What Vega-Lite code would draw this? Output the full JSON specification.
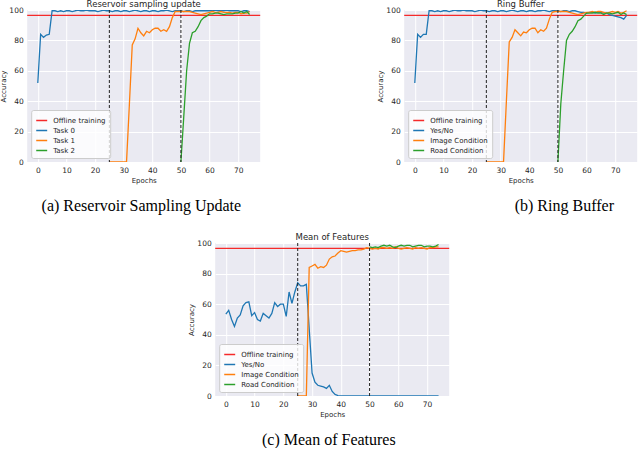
{
"$schema": "https://vega.github.io/schema/vega-lite/v6.json",
"background": "white",
"padding": {"left": -1, "top": -1, "right": 0, "bottom": 0},
"config": {
 "view": {"fill": "#EAEAF2", "stroke": null},
 "font": "DejaVu Sans",
 "axis": {"domain": false, "ticks": false, "tickSize": 0, "labelOverlap": false, "labelFlush": false, "gridColor": "white", "gridWidth": 1, "labelFontSize": 7.5, "labelColor": "#262626", "titleFontSize": 7, "titleColor": "#262626", "titleFontWeight": "normal"},
 "axisX": {"labelPadding": 4, "titlePadding": 3, "labelAngle": 0},
 "axisY": {"labelPadding": 4, "titlePadding": 2},
 "legend": {"orient": "bottom-left", "offset": 4, "fillColor": "rgba(255,255,255,0.8)", "strokeColor": "#cccccc", "cornerRadius": 2, "padding": 4, "labelFontSize": 7, "labelColor": "#262626", "symbolType": "stroke", "symbolSize": 120, "symbolStrokeWidth": 1.5, "rowPadding": 0, "labelOffset": 5},
 "title": {"fontSize": 8.5, "fontWeight": "normal", "color": "#262626", "offset": -2}
},
"datasets": {
 "a": [
  {"s":"Task 0","e":0,"v":52},{"s":"Task 0","e":1,"v":84},{"s":"Task 0","e":2,"v":82},{"s":"Task 0","e":3,"v":83.5},{"s":"Task 0","e":4,"v":84},{"s":"Task 0","e":5,"v":99.5},{"s":"Task 0","e":6,"v":99.5},{"s":"Task 0","e":7,"v":99},{"s":"Task 0","e":8,"v":99.5},{"s":"Task 0","e":9,"v":99},{"s":"Task 0","e":10,"v":99.5},{"s":"Task 0","e":11,"v":99.5},{"s":"Task 0","e":12,"v":99},{"s":"Task 0","e":13,"v":99.5},{"s":"Task 0","e":14,"v":100},{"s":"Task 0","e":15,"v":99.5},{"s":"Task 0","e":16,"v":99.5},{"s":"Task 0","e":17,"v":100},{"s":"Task 0","e":18,"v":99.5},{"s":"Task 0","e":19,"v":99.5},{"s":"Task 0","e":20,"v":99.5},{"s":"Task 0","e":21,"v":99},{"s":"Task 0","e":22,"v":99.5},{"s":"Task 0","e":23,"v":100},{"s":"Task 0","e":24,"v":99.5},{"s":"Task 0","e":25,"v":99.5},{"s":"Task 0","e":26,"v":99},{"s":"Task 0","e":27,"v":99.5},{"s":"Task 0","e":28,"v":99.5},{"s":"Task 0","e":29,"v":99},{"s":"Task 0","e":30,"v":99.5},{"s":"Task 0","e":31,"v":99.5},{"s":"Task 0","e":32,"v":99},{"s":"Task 0","e":33,"v":99.5},{"s":"Task 0","e":34,"v":100},{"s":"Task 0","e":35,"v":99.5},{"s":"Task 0","e":36,"v":99},{"s":"Task 0","e":37,"v":99.5},{"s":"Task 0","e":38,"v":99.5},{"s":"Task 0","e":39,"v":99},{"s":"Task 0","e":40,"v":99.5},{"s":"Task 0","e":41,"v":99.5},{"s":"Task 0","e":42,"v":99},{"s":"Task 0","e":43,"v":99.5},{"s":"Task 0","e":44,"v":99.5},{"s":"Task 0","e":45,"v":100},{"s":"Task 0","e":46,"v":99.5},{"s":"Task 0","e":47,"v":99},{"s":"Task 0","e":48,"v":99.5},{"s":"Task 0","e":49,"v":99.5},{"s":"Task 0","e":50,"v":99.5},{"s":"Task 0","e":51,"v":99},{"s":"Task 0","e":52,"v":99.5},{"s":"Task 0","e":53,"v":99.5},{"s":"Task 0","e":54,"v":99},{"s":"Task 0","e":55,"v":99.5},{"s":"Task 0","e":56,"v":99.5},{"s":"Task 0","e":57,"v":99.5},{"s":"Task 0","e":58,"v":99.5},{"s":"Task 0","e":59,"v":99.5},{"s":"Task 0","e":60,"v":99.5},{"s":"Task 0","e":61,"v":99.5},{"s":"Task 0","e":62,"v":100},{"s":"Task 0","e":63,"v":99.5},{"s":"Task 0","e":64,"v":99.5},{"s":"Task 0","e":65,"v":99.5},{"s":"Task 0","e":66,"v":100},{"s":"Task 0","e":67,"v":99.5},{"s":"Task 0","e":68,"v":99.5},{"s":"Task 0","e":69,"v":99.5},{"s":"Task 0","e":70,"v":99.5},{"s":"Task 0","e":71,"v":99},{"s":"Task 0","e":72,"v":99.5},{"s":"Task 0","e":73,"v":99.5},{"s":"Task 0","e":74,"v":99},
  {"s":"Task 1","e":25,"v":0},{"s":"Task 1","e":26,"v":0},{"s":"Task 1","e":27,"v":0},{"s":"Task 1","e":28,"v":0},{"s":"Task 1","e":29,"v":0},{"s":"Task 1","e":30,"v":0},{"s":"Task 1","e":31,"v":0},{"s":"Task 1","e":32,"v":38},{"s":"Task 1","e":33,"v":77},{"s":"Task 1","e":34,"v":81},{"s":"Task 1","e":35,"v":88},{"s":"Task 1","e":36,"v":85},{"s":"Task 1","e":37,"v":83},{"s":"Task 1","e":38,"v":86},{"s":"Task 1","e":39,"v":85},{"s":"Task 1","e":40,"v":87},{"s":"Task 1","e":41,"v":88},{"s":"Task 1","e":42,"v":88},{"s":"Task 1","e":43,"v":86},{"s":"Task 1","e":44,"v":87},{"s":"Task 1","e":45,"v":86},{"s":"Task 1","e":46,"v":89},{"s":"Task 1","e":47,"v":95},{"s":"Task 1","e":48,"v":99},{"s":"Task 1","e":49,"v":99},{"s":"Task 1","e":50,"v":99},{"s":"Task 1","e":51,"v":99},{"s":"Task 1","e":52,"v":99},{"s":"Task 1","e":53,"v":99},{"s":"Task 1","e":54,"v":98.5},{"s":"Task 1","e":55,"v":98},{"s":"Task 1","e":56,"v":97.5},{"s":"Task 1","e":57,"v":97},{"s":"Task 1","e":58,"v":97.5},{"s":"Task 1","e":59,"v":98},{"s":"Task 1","e":60,"v":98.5},{"s":"Task 1","e":61,"v":99},{"s":"Task 1","e":62,"v":98.5},{"s":"Task 1","e":63,"v":98.5},{"s":"Task 1","e":64,"v":99},{"s":"Task 1","e":65,"v":98.5},{"s":"Task 1","e":66,"v":98.5},{"s":"Task 1","e":67,"v":98.5},{"s":"Task 1","e":68,"v":98},{"s":"Task 1","e":69,"v":98.5},{"s":"Task 1","e":70,"v":98.5},{"s":"Task 1","e":71,"v":97.5},{"s":"Task 1","e":72,"v":98},{"s":"Task 1","e":73,"v":98},{"s":"Task 1","e":74,"v":99},
  {"s":"Task 2","e":50,"v":0},{"s":"Task 2","e":51,"v":30},{"s":"Task 2","e":52,"v":60},{"s":"Task 2","e":53,"v":78},{"s":"Task 2","e":54,"v":85},{"s":"Task 2","e":55,"v":86},{"s":"Task 2","e":56,"v":89},{"s":"Task 2","e":57,"v":93},{"s":"Task 2","e":58,"v":95},{"s":"Task 2","e":59,"v":96},{"s":"Task 2","e":60,"v":97.5},{"s":"Task 2","e":61,"v":97.5},{"s":"Task 2","e":62,"v":98},{"s":"Task 2","e":63,"v":98},{"s":"Task 2","e":64,"v":97.5},{"s":"Task 2","e":65,"v":97},{"s":"Task 2","e":66,"v":97.5},{"s":"Task 2","e":67,"v":97.5},{"s":"Task 2","e":68,"v":97.5},{"s":"Task 2","e":69,"v":98},{"s":"Task 2","e":70,"v":98},{"s":"Task 2","e":71,"v":99},{"s":"Task 2","e":72,"v":98},{"s":"Task 2","e":73,"v":99},{"s":"Task 2","e":74,"v":97}
 ],
 "b": [
  {"s":"Yes/No","e":0,"v":52},{"s":"Yes/No","e":1,"v":84},{"s":"Yes/No","e":2,"v":82},{"s":"Yes/No","e":3,"v":84},{"s":"Yes/No","e":4,"v":84},{"s":"Yes/No","e":5,"v":99.5},{"s":"Yes/No","e":6,"v":99.5},{"s":"Yes/No","e":7,"v":99},{"s":"Yes/No","e":8,"v":99.5},{"s":"Yes/No","e":9,"v":99},{"s":"Yes/No","e":10,"v":99.5},{"s":"Yes/No","e":11,"v":99.5},{"s":"Yes/No","e":12,"v":99},{"s":"Yes/No","e":13,"v":99.5},{"s":"Yes/No","e":14,"v":100},{"s":"Yes/No","e":15,"v":99.5},{"s":"Yes/No","e":16,"v":99.5},{"s":"Yes/No","e":17,"v":100},{"s":"Yes/No","e":18,"v":99.5},{"s":"Yes/No","e":19,"v":99.5},{"s":"Yes/No","e":20,"v":99.5},{"s":"Yes/No","e":21,"v":99},{"s":"Yes/No","e":22,"v":99.5},{"s":"Yes/No","e":23,"v":100},{"s":"Yes/No","e":24,"v":99.5},{"s":"Yes/No","e":25,"v":99.5},{"s":"Yes/No","e":26,"v":99},{"s":"Yes/No","e":27,"v":99.5},{"s":"Yes/No","e":28,"v":99.5},{"s":"Yes/No","e":29,"v":99},{"s":"Yes/No","e":30,"v":99.5},{"s":"Yes/No","e":31,"v":99.5},{"s":"Yes/No","e":32,"v":99},{"s":"Yes/No","e":33,"v":99.5},{"s":"Yes/No","e":34,"v":100},{"s":"Yes/No","e":35,"v":99.5},{"s":"Yes/No","e":36,"v":99},{"s":"Yes/No","e":37,"v":99.5},{"s":"Yes/No","e":38,"v":99.5},{"s":"Yes/No","e":39,"v":99},{"s":"Yes/No","e":40,"v":99.5},{"s":"Yes/No","e":41,"v":99.5},{"s":"Yes/No","e":42,"v":99},{"s":"Yes/No","e":43,"v":99.5},{"s":"Yes/No","e":44,"v":99.5},{"s":"Yes/No","e":45,"v":100},{"s":"Yes/No","e":46,"v":99.5},{"s":"Yes/No","e":47,"v":99},{"s":"Yes/No","e":48,"v":99.5},{"s":"Yes/No","e":49,"v":99.5},{"s":"Yes/No","e":50,"v":99.5},{"s":"Yes/No","e":51,"v":99},{"s":"Yes/No","e":52,"v":99.5},{"s":"Yes/No","e":53,"v":99.5},{"s":"Yes/No","e":54,"v":99},{"s":"Yes/No","e":55,"v":99.5},{"s":"Yes/No","e":56,"v":99.5},{"s":"Yes/No","e":57,"v":99},{"s":"Yes/No","e":58,"v":98.5},{"s":"Yes/No","e":59,"v":98.5},{"s":"Yes/No","e":60,"v":98},{"s":"Yes/No","e":61,"v":98.5},{"s":"Yes/No","e":62,"v":98.5},{"s":"Yes/No","e":63,"v":98},{"s":"Yes/No","e":64,"v":98.5},{"s":"Yes/No","e":65,"v":98.5},{"s":"Yes/No","e":66,"v":98},{"s":"Yes/No","e":67,"v":98},{"s":"Yes/No","e":68,"v":97},{"s":"Yes/No","e":69,"v":96.5},{"s":"Yes/No","e":70,"v":96},{"s":"Yes/No","e":71,"v":95.5},{"s":"Yes/No","e":72,"v":95},{"s":"Yes/No","e":73,"v":94},{"s":"Yes/No","e":74,"v":96.5},
  {"s":"Image Condition","e":25,"v":0},{"s":"Image Condition","e":26,"v":0},{"s":"Image Condition","e":27,"v":0},{"s":"Image Condition","e":28,"v":0},{"s":"Image Condition","e":29,"v":0},{"s":"Image Condition","e":30,"v":0},{"s":"Image Condition","e":31,"v":0},{"s":"Image Condition","e":32,"v":40},{"s":"Image Condition","e":33,"v":79},{"s":"Image Condition","e":34,"v":82},{"s":"Image Condition","e":35,"v":87},{"s":"Image Condition","e":36,"v":85},{"s":"Image Condition","e":37,"v":83},{"s":"Image Condition","e":38,"v":85.5},{"s":"Image Condition","e":39,"v":85},{"s":"Image Condition","e":40,"v":87},{"s":"Image Condition","e":41,"v":88},{"s":"Image Condition","e":42,"v":88},{"s":"Image Condition","e":43,"v":85},{"s":"Image Condition","e":44,"v":87},{"s":"Image Condition","e":45,"v":86},{"s":"Image Condition","e":46,"v":88},{"s":"Image Condition","e":47,"v":94},{"s":"Image Condition","e":48,"v":98.5},{"s":"Image Condition","e":49,"v":99},{"s":"Image Condition","e":50,"v":99},{"s":"Image Condition","e":51,"v":99},{"s":"Image Condition","e":52,"v":99},{"s":"Image Condition","e":53,"v":99},{"s":"Image Condition","e":54,"v":98.5},{"s":"Image Condition","e":55,"v":98},{"s":"Image Condition","e":56,"v":97.5},{"s":"Image Condition","e":57,"v":97},{"s":"Image Condition","e":58,"v":97.5},{"s":"Image Condition","e":59,"v":98},{"s":"Image Condition","e":60,"v":98.5},{"s":"Image Condition","e":61,"v":98.5},{"s":"Image Condition","e":62,"v":99},{"s":"Image Condition","e":63,"v":98.5},{"s":"Image Condition","e":64,"v":99},{"s":"Image Condition","e":65,"v":99},{"s":"Image Condition","e":66,"v":98.5},{"s":"Image Condition","e":67,"v":98},{"s":"Image Condition","e":68,"v":98.5},{"s":"Image Condition","e":69,"v":99},{"s":"Image Condition","e":70,"v":98.5},{"s":"Image Condition","e":71,"v":99},{"s":"Image Condition","e":72,"v":98},{"s":"Image Condition","e":73,"v":98.5},{"s":"Image Condition","e":74,"v":99.5},
  {"s":"Road Condition","e":50,"v":0},{"s":"Road Condition","e":51,"v":38},{"s":"Road Condition","e":52,"v":60},{"s":"Road Condition","e":53,"v":80},{"s":"Road Condition","e":54,"v":84},{"s":"Road Condition","e":55,"v":86},{"s":"Road Condition","e":56,"v":89},{"s":"Road Condition","e":57,"v":93},{"s":"Road Condition","e":58,"v":94},{"s":"Road Condition","e":59,"v":96},{"s":"Road Condition","e":60,"v":98},{"s":"Road Condition","e":61,"v":98},{"s":"Road Condition","e":62,"v":98},{"s":"Road Condition","e":63,"v":98.5},{"s":"Road Condition","e":64,"v":98},{"s":"Road Condition","e":65,"v":98},{"s":"Road Condition","e":66,"v":97},{"s":"Road Condition","e":67,"v":98},{"s":"Road Condition","e":68,"v":98},{"s":"Road Condition","e":69,"v":97.5},{"s":"Road Condition","e":70,"v":98},{"s":"Road Condition","e":71,"v":98.5},{"s":"Road Condition","e":72,"v":97},{"s":"Road Condition","e":73,"v":98},{"s":"Road Condition","e":74,"v":97}
 ],
 "c": [
  {"s":"Yes/No","e":0,"v":53.5},{"s":"Yes/No","e":1,"v":56},{"s":"Yes/No","e":2,"v":50},{"s":"Yes/No","e":3,"v":45.5},{"s":"Yes/No","e":4,"v":51},{"s":"Yes/No","e":5,"v":53},{"s":"Yes/No","e":6,"v":59},{"s":"Yes/No","e":7,"v":61},{"s":"Yes/No","e":8,"v":61.5},{"s":"Yes/No","e":9,"v":52.5},{"s":"Yes/No","e":10,"v":54.5},{"s":"Yes/No","e":11,"v":50},{"s":"Yes/No","e":12,"v":49},{"s":"Yes/No","e":13,"v":54},{"s":"Yes/No","e":14,"v":52.5},{"s":"Yes/No","e":15,"v":51},{"s":"Yes/No","e":16,"v":54},{"s":"Yes/No","e":17,"v":61},{"s":"Yes/No","e":18,"v":58.5},{"s":"Yes/No","e":19,"v":60},{"s":"Yes/No","e":20,"v":60},{"s":"Yes/No","e":21,"v":52},{"s":"Yes/No","e":22,"v":68},{"s":"Yes/No","e":23,"v":60.5},{"s":"Yes/No","e":24,"v":68},{"s":"Yes/No","e":25,"v":74},{"s":"Yes/No","e":26,"v":72},{"s":"Yes/No","e":27,"v":72},{"s":"Yes/No","e":28,"v":73},{"s":"Yes/No","e":29,"v":44},{"s":"Yes/No","e":30,"v":15},{"s":"Yes/No","e":31,"v":9},{"s":"Yes/No","e":32,"v":7},{"s":"Yes/No","e":33,"v":6.5},{"s":"Yes/No","e":34,"v":6},{"s":"Yes/No","e":35,"v":5},{"s":"Yes/No","e":36,"v":7},{"s":"Yes/No","e":37,"v":3},{"s":"Yes/No","e":38,"v":1},{"s":"Yes/No","e":39,"v":0.3},{"s":"Yes/No","e":40,"v":0},{"s":"Yes/No","e":41,"v":0},{"s":"Yes/No","e":42,"v":0},{"s":"Yes/No","e":43,"v":0},{"s":"Yes/No","e":44,"v":0},{"s":"Yes/No","e":45,"v":0},{"s":"Yes/No","e":46,"v":0},{"s":"Yes/No","e":47,"v":0},{"s":"Yes/No","e":48,"v":0},{"s":"Yes/No","e":49,"v":0},{"s":"Yes/No","e":50,"v":0},{"s":"Yes/No","e":51,"v":0},{"s":"Yes/No","e":52,"v":0},{"s":"Yes/No","e":53,"v":0},{"s":"Yes/No","e":54,"v":0},{"s":"Yes/No","e":55,"v":0},{"s":"Yes/No","e":56,"v":0},{"s":"Yes/No","e":57,"v":0},{"s":"Yes/No","e":58,"v":0},{"s":"Yes/No","e":59,"v":0},{"s":"Yes/No","e":60,"v":0},{"s":"Yes/No","e":61,"v":0},{"s":"Yes/No","e":62,"v":0},{"s":"Yes/No","e":63,"v":0},{"s":"Yes/No","e":64,"v":0},{"s":"Yes/No","e":65,"v":0},{"s":"Yes/No","e":66,"v":0},{"s":"Yes/No","e":67,"v":0},{"s":"Yes/No","e":68,"v":0},{"s":"Yes/No","e":69,"v":0},{"s":"Yes/No","e":70,"v":0},{"s":"Yes/No","e":71,"v":0},{"s":"Yes/No","e":72,"v":0},{"s":"Yes/No","e":73,"v":0},{"s":"Yes/No","e":74,"v":0},
  {"s":"Image Condition","e":25,"v":0},{"s":"Image Condition","e":26,"v":0},{"s":"Image Condition","e":27,"v":0},{"s":"Image Condition","e":28,"v":0},{"s":"Image Condition","e":29,"v":84},{"s":"Image Condition","e":30,"v":85},{"s":"Image Condition","e":31,"v":86},{"s":"Image Condition","e":32,"v":83.5},{"s":"Image Condition","e":33,"v":84.5},{"s":"Image Condition","e":34,"v":84},{"s":"Image Condition","e":35,"v":85.5},{"s":"Image Condition","e":36,"v":89.5},{"s":"Image Condition","e":37,"v":91},{"s":"Image Condition","e":38,"v":91.5},{"s":"Image Condition","e":39,"v":93.5},{"s":"Image Condition","e":40,"v":95},{"s":"Image Condition","e":41,"v":94.5},{"s":"Image Condition","e":42,"v":94},{"s":"Image Condition","e":43,"v":94.5},{"s":"Image Condition","e":44,"v":95},{"s":"Image Condition","e":45,"v":95},{"s":"Image Condition","e":46,"v":95.5},{"s":"Image Condition","e":47,"v":95.5},{"s":"Image Condition","e":48,"v":96},{"s":"Image Condition","e":49,"v":97},{"s":"Image Condition","e":50,"v":96.5},{"s":"Image Condition","e":51,"v":96},{"s":"Image Condition","e":52,"v":96.5},{"s":"Image Condition","e":53,"v":96},{"s":"Image Condition","e":54,"v":97},{"s":"Image Condition","e":55,"v":97},{"s":"Image Condition","e":56,"v":96.5},{"s":"Image Condition","e":57,"v":97},{"s":"Image Condition","e":58,"v":96.5},{"s":"Image Condition","e":59,"v":97.5},{"s":"Image Condition","e":60,"v":96.5},{"s":"Image Condition","e":61,"v":96},{"s":"Image Condition","e":62,"v":96.5},{"s":"Image Condition","e":63,"v":97},{"s":"Image Condition","e":64,"v":96.5},{"s":"Image Condition","e":65,"v":96},{"s":"Image Condition","e":66,"v":97},{"s":"Image Condition","e":67,"v":96.5},{"s":"Image Condition","e":68,"v":97},{"s":"Image Condition","e":69,"v":96.5},{"s":"Image Condition","e":70,"v":96},{"s":"Image Condition","e":71,"v":97},{"s":"Image Condition","e":72,"v":97},{"s":"Image Condition","e":73,"v":97.5},{"s":"Image Condition","e":74,"v":97.5},
  {"s":"Road Condition","e":50,"v":97.5},{"s":"Road Condition","e":51,"v":97},{"s":"Road Condition","e":52,"v":97.5},{"s":"Road Condition","e":53,"v":97},{"s":"Road Condition","e":54,"v":98},{"s":"Road Condition","e":55,"v":98.5},{"s":"Road Condition","e":56,"v":98},{"s":"Road Condition","e":57,"v":98.5},{"s":"Road Condition","e":58,"v":97.5},{"s":"Road Condition","e":59,"v":97},{"s":"Road Condition","e":60,"v":98},{"s":"Road Condition","e":61,"v":98.5},{"s":"Road Condition","e":62,"v":98},{"s":"Road Condition","e":63,"v":98.5},{"s":"Road Condition","e":64,"v":98.5},{"s":"Road Condition","e":65,"v":97.5},{"s":"Road Condition","e":66,"v":98},{"s":"Road Condition","e":67,"v":98.5},{"s":"Road Condition","e":68,"v":98.5},{"s":"Road Condition","e":69,"v":97.5},{"s":"Road Condition","e":70,"v":98},{"s":"Road Condition","e":71,"v":98},{"s":"Road Condition","e":72,"v":97.5},{"s":"Road Condition","e":73,"v":98},{"s":"Road Condition","e":74,"v":99}
 ]
},
"vconcat": [
 {
  "hconcat": [
   {
    "title": {"text": "(a) Reservoir Sampling Update", "orient": "bottom", "anchor": "middle", "font": "Liberation Serif", "fontSize": 16, "fontWeight": "normal", "color": "black", "offset": 14, "dx": 11},
    "resolve": {"scale": {"color": "independent"}, "legend": {"color": "independent"}},
    "vconcat": [
     {
      "width": 233, "height": 152,
      "title": {"text": "Reservoir sampling update"},
      "layer": [
       {"data": {"values": [{"s": "Offline training", "v": 96.5}]}, "mark": {"type": "rule", "strokeWidth": 1.2},
        "encoding": {"y": {"field": "v", "type": "quantitative", "axis": {"values": [0,20,40,60,80,100], "title": "Accuracy", "labelOverlap": false}}, "color": {"field": "s", "type": "nominal"}}},
       {"data": {"name": "a"}, "mark": {"type": "line", "clip": true, "strokeWidth": 1.3},
        "encoding": {
         "x": {"field": "e", "type": "quantitative", "scale": {"domain": [-3.7, 77.7], "nice": false, "zero": false}, "axis": {"values": [0,10,20,30,40,50,60,70], "title": "Epochs", "labelOverlap": false}},
         "y": {"field": "v", "type": "quantitative", "scale": {"domain": [0, 100], "nice": false}, "axis": {"values": [0,20,40,60,80,100], "title": "Accuracy", "labelOverlap": false}},
         "color": {"field": "s", "type": "nominal", "scale": {"domain": ["Offline training","Task 0","Task 1","Task 2"], "range": ["#f52a2a","#1f77b4","#ff7f0e","#2ca02c"]}, "legend": {"title": null, "orient": "bottom-left"}}}},
       {"data": {"values": [{"e": 25}, {"e": 50}]}, "mark": {"type": "rule", "strokeDash": [3, 2], "color": "#222222", "strokeWidth": 1},
        "encoding": {"x": {"field": "e", "type": "quantitative", "axis": {"values": [0,10,20,30,40,50,60,70], "title": "Epochs", "labelOverlap": false}}}}
      ]
     }
    ]
   },
   {
    "title": {"text": "(b) Ring Buffer", "orient": "bottom", "anchor": "middle", "font": "Liberation Serif", "fontSize": 16, "fontWeight": "normal", "color": "black", "offset": 14, "dx": 57},
    "resolve": {"scale": {"color": "independent"}, "legend": {"color": "independent"}},
    "vconcat": [
     {
      "width": 233, "height": 152,
      "title": {"text": "Ring Buffer"},
      "layer": [
       {"data": {"values": [{"s": "Offline training", "v": 96.5}]}, "mark": {"type": "rule", "strokeWidth": 1.2},
        "encoding": {"y": {"field": "v", "type": "quantitative", "axis": {"values": [0,20,40,60,80,100], "title": "Accuracy", "labelOverlap": false}}, "color": {"field": "s", "type": "nominal"}}},
       {"data": {"name": "b"}, "mark": {"type": "line", "clip": true, "strokeWidth": 1.3},
        "encoding": {
         "x": {"field": "e", "type": "quantitative", "scale": {"domain": [-3.7, 77.7], "nice": false, "zero": false}, "axis": {"values": [0,10,20,30,40,50,60,70], "title": "Epochs", "labelOverlap": false}},
         "y": {"field": "v", "type": "quantitative", "scale": {"domain": [0, 100], "nice": false}, "axis": {"values": [0,20,40,60,80,100], "title": "Accuracy", "labelOverlap": false}},
         "color": {"field": "s", "type": "nominal", "scale": {"domain": ["Offline training","Yes/No","Image Condition","Road Condition"], "range": ["#f52a2a","#1f77b4","#ff7f0e","#2ca02c"]}, "legend": {"title": null, "orient": "bottom-left"}}}},
       {"data": {"values": [{"e": 25}, {"e": 50}]}, "mark": {"type": "rule", "strokeDash": [3, 2], "color": "#222222", "strokeWidth": 1},
        "encoding": {"x": {"field": "e", "type": "quantitative", "axis": {"values": [0,10,20,30,40,50,60,70], "title": "Epochs", "labelOverlap": false}}}}
      ]
     }
    ]
   }
  ],
  "spacing": 115,
  "resolve": {"scale": {"color": "independent"}, "legend": {"color": "independent"}}
 },
 {
  "title": {"text": "(c) Mean of Features", "orient": "bottom", "anchor": "middle", "font": "Liberation Serif", "fontSize": 16, "fontWeight": "normal", "color": "black", "offset": 14, "dx": 10},
  "resolve": {"scale": {"color": "independent"}, "legend": {"color": "independent"}},
  "vconcat": [
   {
    "width": 234, "height": 153,
    "title": {"text": "Mean of Features"},
    "layer": [
     {"data": {"values": [{"s": "Offline training", "v": 96.5}]}, "mark": {"type": "rule", "strokeWidth": 1.2},
      "encoding": {"y": {"field": "v", "type": "quantitative", "axis": {"values": [0,20,40,60,80,100], "title": "Accuracy", "labelOverlap": false}}, "color": {"field": "s", "type": "nominal"}}},
     {"data": {"name": "c"}, "mark": {"type": "line", "clip": true, "strokeWidth": 1.3},
      "encoding": {
       "x": {"field": "e", "type": "quantitative", "scale": {"domain": [-3.7, 77.7], "nice": false, "zero": false}, "axis": {"values": [0,10,20,30,40,50,60,70], "title": "Epochs", "labelOverlap": false}},
       "y": {"field": "v", "type": "quantitative", "scale": {"domain": [0, 100], "nice": false}, "axis": {"values": [0,20,40,60,80,100], "title": "Accuracy", "labelOverlap": false}},
       "color": {"field": "s", "type": "nominal", "scale": {"domain": ["Offline training","Yes/No","Image Condition","Road Condition"], "range": ["#f52a2a","#1f77b4","#ff7f0e","#2ca02c"]}, "legend": {"title": null, "orient": "bottom-left"}}}},
     {"data": {"values": [{"e": 25}, {"e": 50}]}, "mark": {"type": "rule", "strokeDash": [3, 2], "color": "#222222", "strokeWidth": 1},
      "encoding": {"x": {"field": "e", "type": "quantitative", "axis": {"values": [0,10,20,30,40,50,60,70], "title": "Epochs", "labelOverlap": false}}}}
    ]
   }
  ]
 }
],
"spacing": 18,
"center": true,
"resolve": {"scale": {"color": "independent"}, "legend": {"color": "independent"}}
}
